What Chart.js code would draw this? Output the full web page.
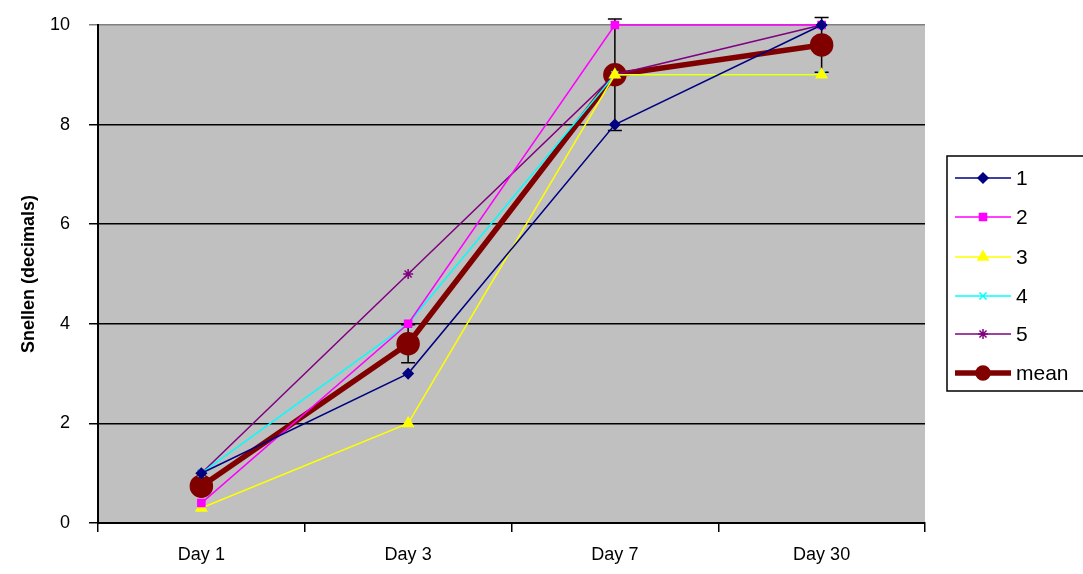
<!DOCTYPE html>
<html>
<head>
<meta charset="utf-8">
<script src="https://cdn.jsdelivr.net/npm/chart.js@4"></script>
<style>
  body { margin: 0; background: #fff; }
  #wrap { width: 1083px; height: 574px; }
</style>
</head>
<body>
<div id="wrap"><canvas id="myChart" width="1083" height="574"></canvas></div>
<script>
// data
var days = ["Day 1", "Day 3", "Day 7", "Day 30"];
var s1 = [1.0, 3, 8, 10];
var s2 = [0.4, 4, 10, 10];
var s3 = [0.3, 2, 9, 9];
var s4 = [1.0, 4, 9, 9];
var s5 = [1.0, 5, 9, 10];
var mean = [0.74, 3.6, 9, 9.6];
var meanErr = [0.15, 0.38, 1.12, 0.55];
var yTicks = [0, 2, 4, 6, 8, 10];

var FONT = "Arial, 'Liberation Sans', sans-serif";

// grey plot background
var bgPlugin = {
    id: 'bg',
    beforeDraw: function(chart){
        var a = chart.chartArea, c = chart.ctx;
        c.save();
        c.fillStyle = '#C0C0C0';
        c.fillRect(a.left, a.top, a.right - a.left, a.bottom - a.top);
        c.restore();
    }
};

// error bars on the mean series
var errPlugin = {
    id: 'err',
    beforeDatasetsDraw: function(chart){
        var c = chart.ctx;
        var xs = chart.scales.x, ys = chart.scales.y;
        c.save();
        c.strokeStyle = '#000';
        c.lineWidth = 1.5;
        for(var i=0; i<mean.length; i++){
            var x = xs.getPixelForValue(i);
            var yl = ys.getPixelForValue(mean[i] - meanErr[i]);
            var yh = ys.getPixelForValue(mean[i] + meanErr[i]);
            c.beginPath();
            c.moveTo(x, yl); c.lineTo(x, yh);
            c.moveTo(x - 7, yl); c.lineTo(x + 7, yl);
            c.moveTo(x - 7, yh); c.lineTo(x + 7, yh);
            c.stroke();
        }
        c.restore();
    }
};

// legend box on the right, line + marker samples
var legendPlugin = {
    id: 'boxLegend',
    afterDraw: function(chart){
        var c = chart.ctx;
        c.save();
        c.fillStyle = '#fff';
        c.fillRect(947, 156, 140, 235);
        c.strokeStyle = '#000';
        c.lineWidth = 1.5;
        c.strokeRect(947, 156, 140, 235);
        var rowY = [178, 217, 257, 296, 334, 373];
        chart.data.datasets.forEach(function(ds, i){
            var y = rowY[i];
            var isMean = ds.label == 'mean';
            c.strokeStyle = ds.borderColor;
            c.lineWidth = ds.borderWidth;
            c.beginPath(); c.moveTo(955, y); c.lineTo(1011, y); c.stroke();
            c.fillStyle = ds.pointBackgroundColor;
            c.strokeStyle = ds.pointBorderColor;
            c.lineWidth = 1.5;
            Chart.helpers.drawPoint(c, {
                pointStyle: ds.pointStyle,
                radius: isMean ? 7 : ds.pointRadius,
                rotation: 0,
                borderWidth: 1.5
            }, 983, y);
            c.fillStyle = '#000';
            c.font = '21px ' + FONT;
            c.textBaseline = 'middle';
            c.textAlign = 'left';
            c.fillText(ds.label, 1016, y + 1);
        });
        c.restore();
    }
};

function mk(label, data, color, style, r, w){
    return {
        label: label,
        data: data,
        borderColor: color,
        backgroundColor: color,
        pointBackgroundColor: color,
        pointBorderColor: color,
        pointStyle: style,
        pointRadius: r,
        pointHoverRadius: r,
        pointBorderWidth: 1.5,
        borderWidth: w,
        tension: 0,
        clip: false
    };
}

var ctx = document.getElementById('myChart').getContext('2d');
var myChart = new Chart(ctx, {
    type: 'line',
    data: {
        labels: days,
        datasets: [
            mk('1', s1, '#000080', 'rectRot', 5, 1.5),
            mk('2', s2, '#FF00FF', 'rect', 5, 1.5),
            mk('3', s3, '#FFFF00', 'triangle', 6, 1.5),
            mk('4', s4, '#00FFFF', 'crossRot', 5, 1.5),
            mk('5', s5, '#800080', 'star', 5, 1.5),
            mk('mean', mean, '#800000', 'circle', 11, 5.5)
        ]
    },
    options: {
        responsive: false,
        animation: false,
        events: [],
        layout: { padding: { left: 0, right: 158, top: 25, bottom: 0 } },
        plugins: {
            legend: { display: false },
            tooltip: { enabled: false }
        },
        scales: {
            x: {
                offset: true,
                afterFit: function(s){ s.height = 51; },
                grid: {
                    offset: true,
                    drawOnChartArea: false,
                    drawTicks: true,
                    tickLength: 9,
                    color: '#000',
                    lineWidth: 1.5
                },
                border: { color: '#000', width: 2 },
                ticks: {
                    color: '#000',
                    font: { family: FONT, size: 18 },
                    padding: 12,
                    maxRotation: 0
                }
            },
            y: {
                min: 0,
                max: 10,
                afterFit: function(s){
                    s.width = 98;
                    s.paddingTop = 0;
                    s.paddingBottom = 0;
                },
                afterBuildTicks: function(s){
                    s.ticks = yTicks.map(function(v){ return { value: v }; });
                },
                grid: {
                    color: function(c){
                        return c.tick && c.tick.value == 10 ? '#808080' : '#000';
                    },
                    lineWidth: 1.5,
                    tickLength: 9,
                    drawTicks: true
                },
                border: { color: '#000', width: 2 },
                ticks: {
                    color: '#000',
                    font: { family: FONT, size: 18 },
                    padding: 19
                },
                title: {
                    display: true,
                    text: 'Snellen (decimals)',
                    color: '#000',
                    font: { family: FONT, size: 18, weight: 'bold' },
                    padding: { top: 18, bottom: 0 }
                }
            }
        }
    },
    plugins: [bgPlugin, errPlugin, legendPlugin]
});
</script>
</body>
</html>
